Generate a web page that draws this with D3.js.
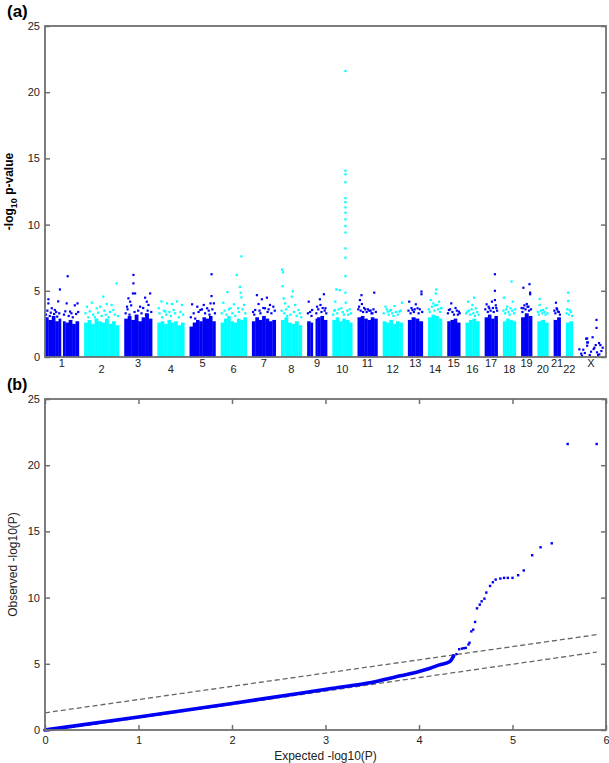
<!DOCTYPE html>
<html lang="en">
<head>
<meta charset="UTF-8">
<title>Manhattan and QQ plot</title>
<script src="https://d3js.org/d3.v7.min.js"></script>
<style>
  body { margin: 0; background: #fff; }
  svg text { font-family: Arial, "Liberation Sans", sans-serif; }
</style>
</head>
<body>
<div id="chart"></div>
<script>
// ---- data ----
const chromosomes = ["1","2","3","4","5","6","7","8","9","10","11","12","13","14","15","16","17","18","19","20","21","22","X"];
// plotted span of each chromosome, Mb
const chrSpan = [243,250,200,193,186,186,171,150,143,143,143,143,107,100,93,100,93,93,79,79,50,50,186];
// top of the dense band of SNPs, in equal bins along each chromosome (-log10 p)
const bandTop = [
  [3.0,2.8,3.1,2.7,2.9,2.7,2.6,2.8,2.5,2.7],
  [2.6,2.8,2.5,2.9,2.7,2.6,2.9,2.5,2.7,2.4],
  [2.9,3.1,2.8,3.2,2.7,3.0,3.3,2.9],
  [2.6,2.7,2.5,2.8,2.6,2.7,2.4,2.6],
  [2.3,2.6,2.8,2.7,3.0,2.9,3.1,2.7],
  [2.6,2.9,3.1,2.7,2.6,2.9,2.8,3.0],
  [2.7,3.0,2.8,3.1,2.9,2.7,2.8],
  [2.8,3.0,2.6,2.5,2.7,2.4],
  [2.7,2.6,2.9,3.0,3.1,2.8],
  [2.8,3.0,2.7,2.9,2.8,2.6],
  [3.0,3.1,2.9,2.8,3.0,2.9],
  [2.7,2.6,2.8,2.5,2.7,2.6],
  [2.8,3.0,2.9,2.7],
  [3.0,3.2,3.1,2.9],
  [2.7,2.8,2.9,2.6],
  [2.6,2.8,2.9,2.7],
  [3.0,3.2,2.9,3.1],
  [2.7,2.9,2.8,2.7],
  [3.0,3.3,3.1],
  [2.7,2.8,2.6],
  [2.8,3.0],
  [2.6,2.7],
  []
];
// regions with no SNPs (relative position along chromosome)
const chrGaps = [["1",0.48,0.53],["9",0.30,0.42]];
// isolated SNPs: chromosome, relative position, -log10 p
const snps = [
  ["1",0.10,4.36],["1",0.10,4.05],["1",0.44,5.1],["1",0.67,6.1],["1",0.39,4.2],["1",0.64,4.05],["1",0.96,4.05],["1",0.88,3.9],["1",0.20,3.68],["1",0.29,3.55],["1",0.74,3.43],
  ["1",0.03,3.2],["1",0.07,3.5],["1",0.14,3.1],["1",0.17,3.35],["1",0.24,3.0],["1",0.27,3.25],["1",0.33,3.4],["1",0.36,3.05],["1",0.42,3.3],["1",0.56,3.2],["1",0.60,3.45],["1",0.70,3.1],["1",0.78,3.3],["1",0.82,3.0],["1",0.92,3.25],["1",0.98,3.4],
  ["2",0.93,5.56],["2",0.55,4.56],["2",0.22,4.1],["2",0.65,4.0],["2",0.79,3.93],["2",0.08,3.8],["2",0.36,3.68],["2",0.46,3.8],["2",0.84,3.55],
  ["2",0.04,3.3],["2",0.12,3.0],["2",0.16,3.45],["2",0.26,3.2],["2",0.31,3.0],["2",0.40,3.35],["2",0.50,3.1],["2",0.58,3.5],["2",0.62,3.2],["2",0.70,3.0],["2",0.74,3.4],["2",0.88,3.2],["2",0.97,3.1],
  ["3",0.33,6.2],["3",0.33,5.56],["3",0.31,4.8],["3",0.39,4.8],["3",0.93,4.8],["3",0.15,4.43],["3",0.21,4.18],["3",0.75,4.48],["3",0.81,4.18],["3",0.10,3.8],["3",0.57,3.8],["3",0.87,3.93],
  ["3",0.05,3.3],["3",0.12,3.6],["3",0.19,3.2],["3",0.25,3.9],["3",0.37,3.4],["3",0.45,3.1],["3",0.50,3.5],["3",0.62,3.3],["3",0.68,3.7],["3",0.78,3.2],["3",0.84,3.5],["3",0.97,3.4],
  ["4",0.15,4.2],["4",0.73,4.2],["4",0.36,4.05],["4",0.54,4.0],["4",0.91,3.93],["4",0.05,3.68],["4",0.60,3.55],["4",0.30,3.43],
  ["4",0.08,3.3],["4",0.18,3.0],["4",0.24,3.5],["4",0.33,3.2],["4",0.45,3.4],["4",0.50,3.1],["4",0.66,3.3],["4",0.80,3.0],["4",0.86,3.4],["4",0.96,3.2],
  ["5",0.85,6.25],["5",0.85,4.6],["5",0.10,3.98],["5",0.55,3.93],["5",0.81,4.05],["5",0.94,4.05],["5",0.30,3.8],["5",0.68,3.68],["5",0.42,3.55],
  ["5",0.05,3.0],["5",0.16,3.3],["5",0.22,2.9],["5",0.35,3.4],["5",0.48,3.6],["5",0.60,3.3],["5",0.74,3.5],["5",0.77,3.2],["5",0.88,3.6],["5",0.98,3.3],
  ["6",0.62,6.2],["6",0.80,7.6],["6",0.74,5.3],["6",0.77,4.86],["6",0.80,4.5],["6",0.26,4.9],["6",0.10,4.1],["6",0.51,3.98],["6",0.90,3.93],["6",0.38,3.68],["6",0.67,3.68],
  ["6",0.04,3.3],["6",0.15,3.5],["6",0.22,3.2],["6",0.32,3.6],["6",0.45,3.3],["6",0.56,3.1],["6",0.70,3.4],["6",0.84,3.6],["6",0.95,3.3],
  ["7",0.21,4.67],["7",0.42,4.36],["7",0.63,4.48],["7",0.28,4.0],["7",0.76,3.93],["7",0.90,3.8],["7",0.14,3.55],["7",0.55,3.68],
  ["7",0.05,3.4],["7",0.10,3.2],["7",0.32,3.5],["7",0.36,3.3],["7",0.48,3.7],["7",0.66,3.4],["7",0.70,3.6],["7",0.82,3.3],["7",0.96,3.5],
  ["8",0.05,6.6],["8",0.10,6.4],["8",0.08,5.35],["8",0.57,4.96],["8",0.13,4.43],["8",0.52,4.56],["8",0.20,4.05],["8",0.68,3.93],["8",0.36,3.8],["8",0.84,3.55],
  ["8",0.03,3.5],["8",0.16,3.3],["8",0.25,3.6],["8",0.30,3.1],["8",0.45,3.2],["8",0.62,3.4],["8",0.75,3.1],["8",0.90,3.3],["8",0.97,3.0],
  ["9",0.08,4.18],["9",0.64,4.36],["9",0.84,4.74],["9",0.67,3.93],["9",0.50,3.8],["9",0.92,3.68],["9",0.25,3.55],
  ["9",0.04,3.3],["9",0.15,3.4],["9",0.22,3.1],["9",0.46,3.3],["9",0.56,3.6],["9",0.72,3.4],["9",0.78,3.7],["9",0.88,3.5],["9",0.96,3.3],
  ["10",0.15,4.18],["10",0.20,5.1],["10",0.37,5.05],["10",0.67,4.1],["10",0.87,3.6],["10",0.12,3.55],["10",0.45,3.68],
  ["10",0.04,3.2],["10",0.10,3.5],["10",0.25,3.3],["10",0.32,3.6],["10",0.52,3.4],["10",0.58,3.2],["10",0.75,3.5],["10",0.80,3.2],["10",0.94,3.3],
  ["10",0.66,21.6],["10",0.66,14.07],["10",0.66,13.8],["10",0.66,13.2],["10",0.66,12.0],["10",0.66,11.7],["10",0.66,11.3],["10",0.66,10.9],["10",0.66,10.4],["10",0.66,9.9],["10",0.66,9.4],["10",0.66,8.2],["10",0.66,7.5],["10",0.66,6.1],["10",0.66,4.86],
  ["11",0.20,4.67],["11",0.12,4.3],["11",0.22,4.0],["11",0.84,4.86],["11",0.39,3.6],["11",0.59,3.5],["11",0.75,3.3],
  ["11",0.04,3.6],["11",0.08,3.8],["11",0.16,3.5],["11",0.28,3.4],["11",0.33,3.7],["11",0.46,3.4],["11",0.52,3.6],["11",0.66,3.5],["11",0.70,3.3],["11",0.80,3.6],["11",0.92,3.4],
  ["12",0.14,3.8],["12",0.97,4.1],["12",0.42,3.55],["12",0.59,3.85],["12",0.84,3.43],["12",0.25,3.43],
  ["12",0.05,3.3],["12",0.20,3.6],["12",0.30,3.2],["12",0.36,3.5],["12",0.48,3.3],["12",0.54,3.1],["12",0.66,3.4],["12",0.76,3.2],["12",0.90,3.5],
  ["13",0.09,4.18],["13",0.91,4.94],["13",0.91,4.74],["13",0.53,3.98],["13",0.65,3.68],["13",0.31,3.55],
  ["13",0.04,3.5],["13",0.18,3.3],["13",0.24,3.7],["13",0.40,3.4],["13",0.46,3.6],["13",0.72,3.3],["13",0.80,3.6],["13",0.96,3.4],
  ["14",0.59,5.1],["14",0.55,4.8],["14",0.19,4.3],["14",0.79,4.18],["14",0.38,4.05],["14",0.66,3.93],["14",0.91,3.68],
  ["14",0.05,3.6],["14",0.12,3.4],["14",0.28,3.8],["14",0.46,3.5],["14",0.50,3.9],["14",0.72,3.6],["14",0.86,3.4],["14",0.96,3.7],
  ["15",0.31,4.05],["15",0.64,3.7],["15",0.13,3.55],["15",0.90,3.43],
  ["15",0.05,3.3],["15",0.22,3.6],["15",0.40,3.4],["15",0.52,3.2],["15",0.74,3.5],["15",0.82,3.2],["15",0.96,3.3],
  ["16",0.19,4.18],["16",0.62,4.48],["16",0.50,3.93],["16",0.74,3.68],["16",0.14,3.43],
  ["16",0.05,3.3],["16",0.26,3.5],["16",0.34,3.2],["16",0.44,3.6],["16",0.56,3.3],["16",0.68,3.1],["16",0.84,3.4],["16",0.94,3.2],
  ["17",0.79,6.25],["17",0.79,5.0],["17",0.56,4.18],["17",0.79,4.3],["17",0.15,3.98],["17",0.36,3.68],["17",0.90,3.7],
  ["17",0.05,3.6],["17",0.24,3.4],["17",0.30,3.8],["17",0.46,3.5],["17",0.64,3.7],["17",0.70,3.4],["17",0.86,3.9],["17",0.96,3.5],
  ["18",0.67,5.7],["18",0.08,4.48],["18",0.77,4.18],["18",0.33,3.8],["18",0.59,3.68],
  ["18",0.04,3.5],["18",0.18,3.3],["18",0.26,3.6],["18",0.44,3.4],["18",0.52,3.2],["18",0.72,3.5],["18",0.86,3.3],["18",0.95,3.6],
  ["19",0.21,5.23],["19",0.76,5.5],["19",0.82,4.86],["19",0.82,4.74],["19",0.52,4.0],["19",0.21,3.68],["19",0.67,3.8],
  ["19",0.05,3.7],["19",0.12,3.4],["19",0.30,3.9],["19",0.40,3.6],["19",0.58,3.8],["19",0.72,3.5],["19",0.90,3.6],
  ["20",0.21,4.38],["20",0.21,3.93],["20",0.82,3.68],["20",0.52,3.55],
  ["20",0.05,3.4],["20",0.14,3.2],["20",0.34,3.5],["20",0.44,3.3],["20",0.64,3.4],["20",0.74,3.2],["20",0.92,3.3],
  ["21",0.33,4.1],["21",0.43,3.68],["21",0.61,3.43],
  ["21",0.10,3.5],["21",0.25,3.3],["21",0.50,3.6],["21",0.75,3.4],["21",0.90,3.2],
  ["22",0.33,4.86],["22",0.33,4.23],["22",0.53,3.55],
  ["22",0.10,3.3],["22",0.20,3.6],["22",0.45,3.2],["22",0.70,3.4],["22",0.90,3.1],
  ["X",0.05,0.58],["X",0.31,1.38],["X",0.35,1.1],["X",0.26,0.3],["X",0.56,1.49],["X",0.63,0.7],["X",0.71,2.8],["X",0.71,2.2],["X",0.73,0.35],["X",0.82,0.2],
  ["X",0.35,1.4],["X",0.38,1.1],["X",0.35,0.85],["X",0.20,0.55],["X",0.81,1.05],["X",0.68,0.9],["X",0.60,0.6],["X",0.12,0.25],["X",0.45,0.15],["X",0.90,0.45],["X",0.95,0.7],["X",0.86,0.9],["X",0.50,0.4],["X",0.15,0.1],["X",0.77,0.15]
];

// QQ plot: dense part of the observed curve (expected, observed)
const qqCurve = [[0,0],[1,0.98],[2,2.0],[2.73,2.78],[3.08,3.16],[3.44,3.53],[3.8,4.09],[4.0,4.42],[4.12,4.67],[4.22,4.92],[4.33,5.17],[4.37,5.6]];
// sparse tail of the observed curve
const qqTail = [[4.37,5.55],[4.40,5.73],[4.43,6.1],[4.46,6.15],[4.48,6.18],[4.50,6.2],[4.53,6.46],[4.54,6.59],[4.56,7.45],[4.58,7.58],[4.60,8.16],[4.62,9.19],[4.65,9.47],[4.67,9.72],[4.70,9.92],[4.72,10.38],[4.76,10.88],[4.79,11.16],[4.82,11.36],[4.87,11.44],[4.91,11.49],[4.95,11.49],[5.00,11.49],[5.06,11.69],[5.12,12.05],[5.21,13.2],[5.30,13.8],[5.42,14.1],[5.59,21.6],[5.90,21.6]];
// confidence bounds (dashed)
const ciUpper = [[0,1.3],[5.9,7.2]];
const ciLower = [[0.1,0],[5.9,5.88]];

const yTicks = [0,5,10,15,20,25];
const qqXTicks = [0,1,2,3,4,5,6];

// ---- layout ----
const W = 609, H = 763;
const left = 45, right = 606;
const panelA = {top: 26, bottom: 357};
const panelB = {top: 399, bottom: 730};
const blue = "#0000f5", cyan = "#00ffff";
const axisCol = "#707070", textCol = "#222";
const gapMb = 37.7;

const svg = d3.select("#chart").append("svg")
  .attr("width", W).attr("height", H);

// cumulative chromosome offsets
const chrStart = {};
let acc = 0;
chromosomes.forEach((c, i) => { chrStart[c] = acc; acc += chrSpan[i] + (i < chromosomes.length - 1 ? gapMb : 0); });
const genomeLen = acc;
const chrIndex = c => chromosomes.indexOf(c);
const gpos = (c, rel) => chrStart[c] + rel * chrSpan[chrIndex(c)];

const xA = d3.scaleLinear().domain([0, genomeLen]).range([left, 604]);
const yA = d3.scaleLinear().domain([0, 25]).range([panelA.bottom, panelA.top]);
const colorOf = c => (chrIndex(c) % 2 === 0 ? blue : cyan);

// ===== panel (a) =====
const gA = svg.append("g");

// dense bands
chromosomes.forEach((c, i) => {
  const bins = bandTop[i];
  const n = bins.length;
  bins.forEach((v, j) => {
    const x0 = xA(gpos(c, j / n)), x1 = xA(gpos(c, (j + 1) / n));
    gA.append("rect")
      .attr("x", x0).attr("width", x1 - x0 + 0.3)
      .attr("y", yA(v)).attr("height", yA(0) - yA(v))
      .attr("fill", colorOf(c));
  });
});
chrGaps.forEach(([c, a, b]) => {
  gA.append("rect")
    .attr("x", xA(gpos(c, a))).attr("width", xA(gpos(c, b)) - xA(gpos(c, a)))
    .attr("y", yA(25)).attr("height", yA(0) - yA(25))
    .attr("fill", "#fff");
});

// isolated snps
gA.selectAll("rect.snp").data(snps).enter().append("rect")
  .attr("class", "snp")
  .attr("x", d => xA(gpos(d[0], d[1])) - 1.1)
  .attr("y", d => yA(d[2]) - 1.1)
  .attr("width", 2.2).attr("height", 2.2)
  .attr("fill", d => colorOf(d[0]));

// frame + ticks
gA.append("g")
  .attr("transform", `translate(${left},0)`)
  .call(d3.axisLeft(yA).tickValues(yTicks).tickSizeInner(-5).tickSizeOuter(0).tickPadding(5))
  .call(g => g.select(".domain").remove())
  .call(g => g.selectAll("line").attr("stroke", axisCol).attr("stroke-width", 1.5))
  .call(g => g.selectAll("text").attr("fill", textCol).style("font-size", "11px"));
gA.append("g")
  .attr("transform", `translate(${right},0)`)
  .call(d3.axisRight(yA).tickValues(yTicks).tickSizeInner(-5).tickSizeOuter(0).tickFormat(""))
  .call(g => g.select(".domain").remove())
  .call(g => g.selectAll("line").attr("stroke", axisCol).attr("stroke-width", 1.5));
gA.append("rect")
  .attr("x", left).attr("y", panelA.top)
  .attr("width", right - left).attr("height", panelA.bottom - panelA.top)
  .attr("fill", "none").attr("stroke", axisCol).attr("stroke-width", 1.8);

// chromosome labels
gA.selectAll("text.chr").data(chromosomes).enter().append("text")
  .attr("class", "chr")
  .attr("x", (c, i) => xA(chrStart[c] + chrSpan[i] / 2))
  .attr("y", (c, i) => i % 2 === 0 ? 367 : 373)
  .attr("text-anchor", "middle")
  .attr("fill", textCol)
  .style("font-size", "11px")
  .text(c => c);

// axis label
const yLabA = gA.append("text")
  .attr("transform", `translate(13,${(panelA.top + panelA.bottom) / 2}) rotate(-90)`)
  .attr("text-anchor", "middle")
  .attr("fill", "#000")
  .style("font-size", "12px").style("font-weight", "bold");
yLabA.append("tspan").text("-log");
yLabA.append("tspan").attr("dy", 4).style("font-size", "9px").text("10");
yLabA.append("tspan").attr("dy", -4).text(" p-value");

svg.append("text").attr("x", 7).attr("y", 17)
  .style("font-size", "17px").style("font-weight", "bold").text("(a)");

// ===== panel (b) =====
const xB = d3.scaleLinear().domain([0, 6]).range([left, right]);
const yB = d3.scaleLinear().domain([0, 25]).range([panelB.bottom, panelB.top]);
const gB = svg.append("g");

svg.append("clipPath").attr("id", "clipB").append("rect")
  .attr("x", left).attr("y", panelB.top).attr("width", right - left).attr("height", panelB.bottom - panelB.top);

const line = d3.line().x(d => xB(d[0])).y(d => yB(d[1]));
[ciUpper, ciLower].forEach(seg => {
  gB.append("path").datum(seg)
    .attr("d", line)
    .attr("clip-path", "url(#clipB)")
    .attr("fill", "none").attr("stroke", "#666").attr("stroke-width", 1.3)
    .attr("stroke-dasharray", "5,3");
});

gB.append("path").datum(qqCurve)
  .attr("d", line.curve(d3.curveMonotoneX))
  .attr("fill", "none").attr("stroke", blue).attr("stroke-width", 3.6)
  .attr("stroke-linecap", "round").attr("stroke-linejoin", "round");
gB.selectAll("rect.qq").data(qqTail).enter().append("rect")
  .attr("class", "qq")
  .attr("x", d => xB(d[0]) - 1.2).attr("y", d => yB(d[1]) - 1.2)
  .attr("width", 2.4).attr("height", 2.4)
  .attr("fill", blue);

gB.append("g")
  .attr("transform", `translate(${left},0)`)
  .call(d3.axisLeft(yB).tickValues(yTicks).tickSizeInner(-5).tickSizeOuter(0).tickPadding(5))
  .call(g => g.select(".domain").remove())
  .call(g => g.selectAll("line").attr("stroke", axisCol).attr("stroke-width", 1.5))
  .call(g => g.selectAll("text").attr("fill", textCol).style("font-size", "11px"));
gB.append("g")
  .attr("transform", `translate(${right},0)`)
  .call(d3.axisRight(yB).tickValues(yTicks).tickSizeInner(-5).tickSizeOuter(0).tickFormat(""))
  .call(g => g.select(".domain").remove())
  .call(g => g.selectAll("line").attr("stroke", axisCol).attr("stroke-width", 1.5));
gB.append("g")
  .attr("transform", `translate(0,${panelB.bottom})`)
  .call(d3.axisBottom(xB).tickValues(qqXTicks).tickFormat(d3.format("d")).tickSizeInner(-5).tickSizeOuter(0).tickPadding(6))
  .call(g => g.select(".domain").remove())
  .call(g => g.selectAll("line").attr("stroke", axisCol).attr("stroke-width", 1.5))
  .call(g => g.selectAll("text").attr("fill", textCol).style("font-size", "11px"));
gB.append("g")
  .attr("transform", `translate(0,${panelB.top})`)
  .call(d3.axisTop(xB).tickValues(qqXTicks).tickSizeInner(-5).tickSizeOuter(0).tickFormat(""))
  .call(g => g.select(".domain").remove())
  .call(g => g.selectAll("line").attr("stroke", axisCol).attr("stroke-width", 1.5));
gB.append("rect")
  .attr("x", left).attr("y", panelB.top)
  .attr("width", right - left).attr("height", panelB.bottom - panelB.top)
  .attr("fill", "none").attr("stroke", axisCol).attr("stroke-width", 1.8);

gB.append("text")
  .attr("transform", `translate(17,${(panelB.top + panelB.bottom) / 2}) rotate(-90)`)
  .attr("text-anchor", "middle").attr("fill", textCol)
  .style("font-size", "12px").text("Observed -log10(P)");
gB.append("text")
  .attr("x", (left + right) / 2).attr("y", 760)
  .attr("text-anchor", "middle").attr("fill", textCol)
  .style("font-size", "12px").text("Expected -log10(P)");

svg.append("text").attr("x", 7).attr("y", 390)
  .style("font-size", "16px").style("font-weight", "bold").text("(b)");
</script>
</body>
</html>
